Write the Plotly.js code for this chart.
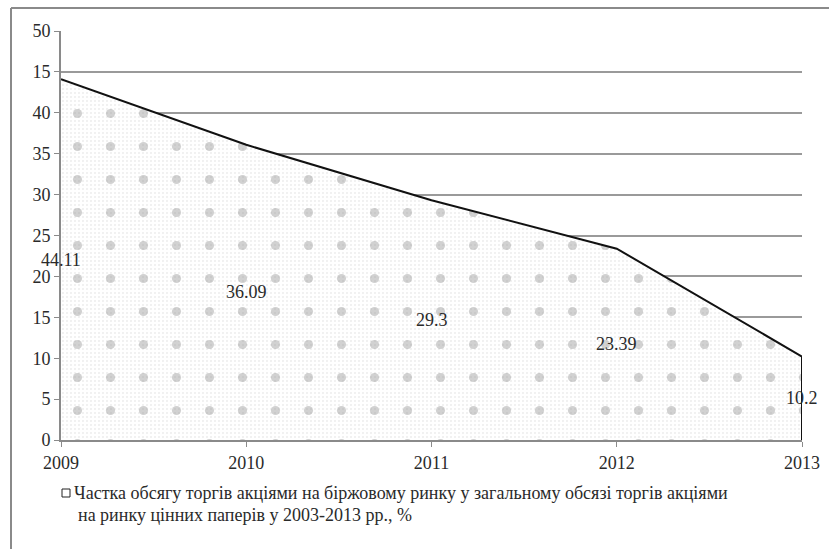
<!DOCTYPE html>
<html>
<head>
<meta charset="utf-8">
<script src="https://cdn.plot.ly/plotly-3.0.1.min.js"></script>
</head>
<body style="margin:0;background:#fff">
<div id="chart" style="width:829px;height:549px"></div>
<script>
// Share of exchange stock trading in total stock trading, %
const years = [2009, 2010, 2011, 2012, 2013];
const shares = [44.11, 36.09, 29.3, 23.39, 10.2];
const valueLabels = ['44.11', '36.09', '29.3', '23.39', '10.2'];

const yTickVals = [0, 5, 10, 15, 20, 25, 30, 35, 40, 45, 50];
const yTickText = ['0', '5', '10', '15', '20', '25', '30', '35', '40', '15', '50'];

const legendLine1 = 'Частка обсягу торгів акціями на біржовому ринку у загальному обсязі торгів акціями';
const legendLine2 = 'на ринку цінних паперів у 2003-2013 рр., %';

const W = 829, H = 549;
const M = { l: 61, r: 27, t: 31, b: 109 };
const PW = W - M.l - M.r, PH = H - M.t - M.b;
const px = x => (x - M.l) / PW;          // pixel -> paper x
const py = y => 1 - (y - M.t) / PH;      // pixel -> paper y

const fam = 'Liberation Serif';
const textColor = '#2a2a2a';

// fine background dot grid
const fineDots = {
  x: years, y: shares, type: 'scatter', mode: 'none',
  fill: 'tozeroy', fillcolor: 'rgba(0,0,0,0)',
  fillpattern: { shape: '.', size: 4, solidity: 0.1, fgcolor: '#dcdcdc', bgcolor: '#ffffff' },
  hoverinfo: 'skip', showlegend: false
};

// dotted clusters plus the outline of the area
const area = {
  x: years, y: shares, type: 'scatter', mode: 'lines',
  fill: 'tozeroy', fillcolor: 'rgba(0,0,0,0)',
  fillpattern: { shape: '.', size: 33, solidity: 0.06, fgcolor: '#8c8c8c', fgopacity: 0.4, bgcolor: 'rgba(0,0,0,0)' },
  line: { color: '#111', width: 2 },
  showlegend: false
};

const annotations = years.map((yr, i) => ({
  x: yr, y: shares[i] / 2, xref: 'x', yref: 'y',
  text: valueLabels[i], showarrow: false,
  xanchor: 'center', yanchor: 'middle',
  font: { family: fam, size: 18, color: textColor }
}));

// series legend, two lines
annotations.push({
  x: px(72), y: py(493), xref: 'paper', yref: 'paper',
  text: legendLine1, showarrow: false, xanchor: 'left', yanchor: 'middle',
  font: { family: fam, size: 18, color: textColor }
});
annotations.push({
  x: px(76), y: py(515), xref: 'paper', yref: 'paper',
  text: legendLine2, showarrow: false, xanchor: 'left', yanchor: 'middle',
  font: { family: fam, size: 18, color: textColor }
});

const last = years.length - 1;
const shapes = [
  // closing edge of the area at the last year
  { type: 'line', xref: 'x', yref: 'y', x0: years[last], x1: years[last], y0: 0, y1: shares[last],
    line: { color: '#111', width: 2 } },
  // chart frame
  { type: 'line', xref: 'paper', yref: 'paper', x0: px(11), x1: px(11), y0: py(8), y1: py(560),
    line: { color: '#8a8a8a', width: 2 } },
  { type: 'line', xref: 'paper', yref: 'paper', x0: px(11), x1: px(840), y0: py(8), y1: py(8),
    line: { color: '#8a8a8a', width: 2 } },
  // legend key
  { type: 'rect', xref: 'paper', yref: 'paper', x0: px(62), x1: px(70), y0: py(489), y1: py(497),
    line: { color: '#222', width: 1 }, fillcolor: '#fff' }
];

const layout = {
  width: W, height: H,
  margin: M,
  paper_bgcolor: '#fff', plot_bgcolor: '#fff',
  showlegend: false,
  xaxis: {
    type: 'linear', range: [years[0], years[last]],
    tickvals: years, ticktext: years.map(String),
    showgrid: false, zeroline: false,
    showline: true, linecolor: '#8a8a8a', linewidth: 2,
    ticks: 'outside', ticklen: 5, tickcolor: '#8a8a8a',
    tickfont: { family: fam, size: 18, color: textColor }
  },
  yaxis: {
    range: [0, 50], tickvals: yTickVals, ticktext: yTickText,
    showgrid: true, gridcolor: '#9a9a9a', gridwidth: 1.5,
    zeroline: false,
    showline: true, linecolor: '#8a8a8a', linewidth: 2,
    ticks: 'outside', ticklen: 5, tickcolor: '#8a8a8a',
    tickfont: { family: fam, size: 18, color: textColor }
  },
  annotations: annotations,
  shapes: shapes
};

Plotly.newPlot('chart', [fineDots, area], layout, { displayModeBar: false });
</script>
</body>
</html>
